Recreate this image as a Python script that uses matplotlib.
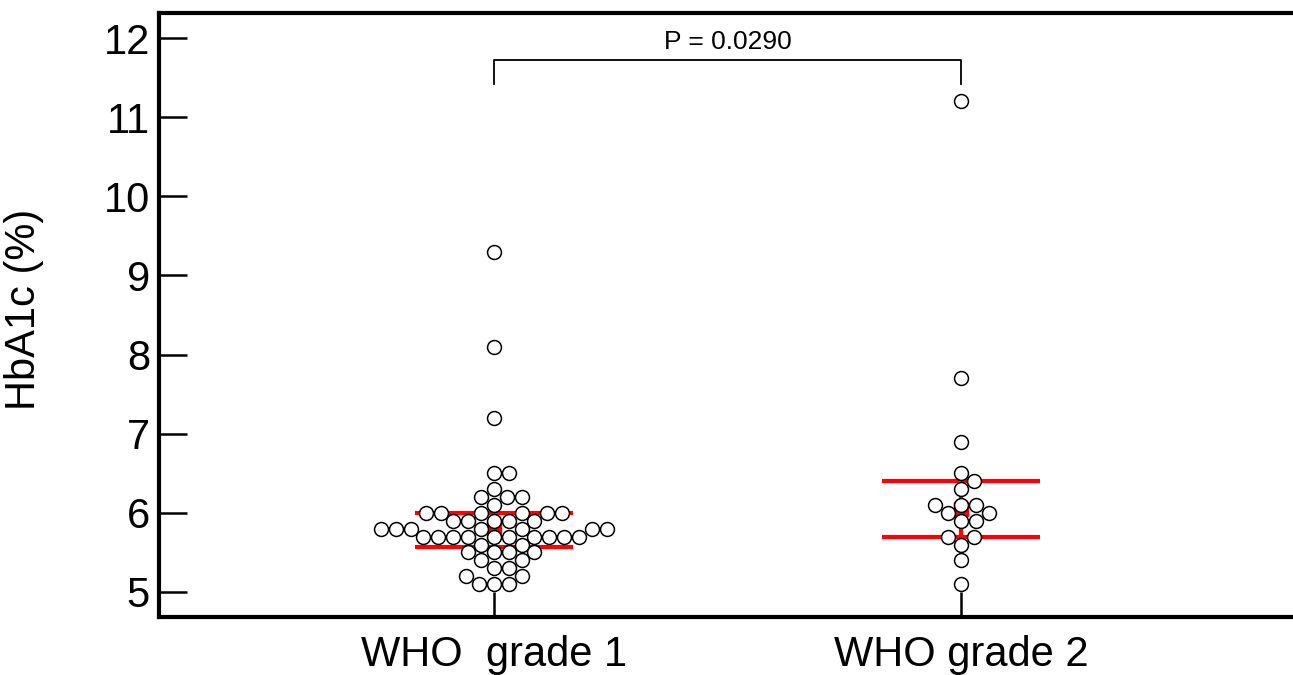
import matplotlib
matplotlib.use('Agg')
import matplotlib.pyplot as plt
import numpy as np

plt.rcParams['font.family'] = ['Liberation Sans', 'DejaVu Sans']

# HbA1c values per WHO grade
groups: list = ['WHO  grade 1', 'WHO grade 2']
positions: list = [1, 2]

grade_1_hba1c: list = [
    9.3, 8.1, 7.2,
    6.5, 6.5, 6.3, 6.2, 6.2, 6.2, 6.1,
    6.0, 6.0, 6.0, 6.0, 6.0, 6.0,
    5.9, 5.9, 5.9, 5.9, 5.9,
    5.8, 5.8, 5.8, 5.8, 5.8, 5.8, 5.8,
    5.7, 5.7, 5.7, 5.7, 5.7, 5.7, 5.7, 5.7, 5.7, 5.7,
    5.6, 5.6, 5.5, 5.5, 5.5, 5.5,
    5.4, 5.4, 5.3, 5.3, 5.2, 5.2, 5.1, 5.1, 5.1,
]
grade_2_hba1c: list = [
    11.2, 7.7, 6.9, 6.5, 6.4, 6.3,
    6.1, 6.1, 6.1, 6.0, 6.0, 5.9, 5.9,
    5.7, 5.7, 5.6, 5.4, 5.1,
]

# median and interquartile range shown in red
medians: list = [5.80, 6.05]
lower_quartiles: list = [5.57, 5.70]
upper_quartiles: list = [6.00, 6.40]

p_value_text: str = 'P = 0.0290'

fig = plt.figure(figsize = (12.93, 6.75), dpi = 100)
ax = fig.add_axes([159 / 1293, 1 - 617 / 675, (1293 - 159) / 1293, (617 - 13) / 675])
ax.set_xlim(0.2827, 2.711)
ax.set_ylim(4.684, 12.316)


def swarm_x(values, center, diameter_px = 15.0):
    # simple beeswarm in pixel space, then back to data coordinates
    values = np.asarray(values, dtype = float)
    pts = ax.transData.transform(np.column_stack((np.full(len(values), center), values)))
    cx = pts[0, 0]
    ys = pts[:, 1]
    placed: list = []
    offsets = np.zeros(len(values))
    for i in np.argsort(values, kind = 'stable'):
        y = ys[i]
        candidates = [0.0]
        for px, py in placed:
            dy = abs(py - y)
            if dy < diameter_px:
                dx = np.sqrt(diameter_px**2 - dy**2)
                candidates += [px + dx, px - dx]
        candidates.sort(key = abs)
        chosen = candidates[-1]
        for c in candidates:
            if all((c - px)**2 + (y - py)**2 >= diameter_px**2 - 1e-6 for px, py in placed):
                chosen = c
                break
        placed.append((chosen, y))
        offsets[i] = chosen
    back = ax.transData.inverted().transform(np.column_stack((cx + offsets, ys)))
    return back[:, 0]


half_width: float = 0.17
for pos, med, q1, q3 in zip(positions, medians, lower_quartiles, upper_quartiles):
    ax.hlines([q1, q3], pos - half_width, pos + half_width, color = 'red', lw = 3, zorder = 2)
    ax.vlines(pos, q1, q3, color = 'red', lw = 3, zorder = 2)
    ax.plot(pos, med, marker = 's', color = 'red', ms = 10, zorder = 2)

for pos, values in zip(positions, [grade_1_hba1c, grade_2_hba1c]):
    xs = swarm_x(values, pos)
    ax.plot(xs, values, 'o', ls = 'none', ms = 10, mfc = 'white', mec = 'black', mew = 1.1, zorder = 3)

# significance bracket
ax.plot([1, 1, 2, 2], [11.42, 11.72, 11.72, 11.42], color = 'black', lw = 1.3)
ax.text(1.5, 11.80, p_value_text, ha = 'center', va = 'bottom', fontsize = 19)

ax.set_yticks(np.arange(5, 13, 1))
ax.set_xticks(positions)
ax.set_xticklabels(groups)
ax.tick_params(axis = 'y', direction = 'in', length = 20, width = 1.8, labelsize = 30, pad = 6.5)
ax.tick_params(axis = 'x', direction = 'in', length = 18, width = 1.8, labelsize = 30, pad = 13)
ax.set_ylabel('HbA1c (%)', fontsize = 30)
ax.yaxis.set_label_coords(-(159 - 44) / 1134, 0.51)

for side in ['left', 'top', 'bottom']:
    ax.spines[side].set_linewidth(3)
ax.spines['right'].set_visible(False)

fig.savefig('out.png', dpi = 100)
